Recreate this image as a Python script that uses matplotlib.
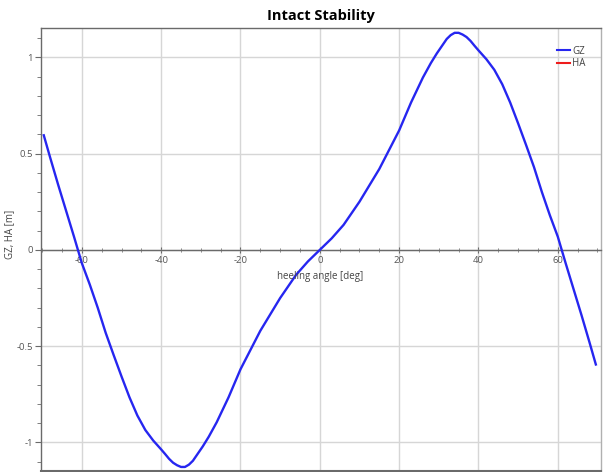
import matplotlib
matplotlib.use("Agg")
import matplotlib.pyplot as plt
from matplotlib.ticker import MultipleLocator

plt.rcParams['font.family'] = ['Open Sans', 'DejaVu Sans']
plt.rcParams['axes.unicode_minus'] = False

# Righting lever curve (GZ) against heel angle
heel_angle = [-69.6, -68, -66, -64, -62, -60, -58, -56, -54, -52, -50, -48, -46,
              -44, -42, -40, -39, -38, -37, -36, -35, -34, -33, -32, -31,
              -29.5, -28, -26, -23, -20, -15, -10, -6, -3, 0, 3, 6, 10, 15,
              20, 23, 26, 28, 29.5, 31, 32, 33, 34, 35, 36, 37, 38, 39, 40,
              42, 44, 46, 48, 50, 52, 54, 56, 58, 60, 62, 64, 66, 68, 69.6]
gz = [0.595, 0.48, 0.34, 0.205, 0.07, -0.069, -0.18, -0.30, -0.43, -0.545,
      -0.657, -0.765, -0.86, -0.935, -0.99, -1.036, -1.06, -1.085, -1.105,
      -1.118, -1.127, -1.127, -1.115, -1.095, -1.065, -1.02, -0.97, -0.895,
      -0.765, -0.62, -0.42, -0.25, -0.13, -0.06, 0.0, 0.06, 0.13, 0.25, 0.42,
      0.62, 0.765, 0.895, 0.97, 1.02, 1.065, 1.095, 1.115, 1.127, 1.127,
      1.118, 1.105, 1.085, 1.06, 1.036, 0.99, 0.935, 0.86, 0.765, 0.657,
      0.545, 0.43, 0.30, 0.18, 0.069, -0.07, -0.205, -0.34, -0.48, -0.595]

# Heeling arm (no values in this condition)
ha_angle = []
ha = []

x_major = [-60, -40, -20, 0, 20, 40, 60]
y_major = [-1, -0.5, 0, 0.5, 1]

fig = plt.figure(figsize=(6.07, 4.72), dpi=100)
ax = fig.add_axes([41 / 607, 1 / 472, 560 / 607, 443 / 472])

ax.plot(heel_angle, gz, color='#2626f0', lw=1.7, label='GZ', zorder=3,
        solid_joinstyle='round')
ax.plot(ha_angle, ha, color='#ee1c1c', lw=1.7, label='HA', zorder=3)

ax.set_xlim(-70.3, 70.9)
ax.set_ylim(-1.148, 1.152)

ax.set_xticks(x_major)
ax.set_xticklabels([str(v) for v in x_major])
ax.set_yticks(y_major)
ax.set_yticklabels(['-1', '-0.5', '0', '0.5', '1'])
ax.xaxis.set_minor_locator(MultipleLocator(5))
ax.yaxis.set_minor_locator(MultipleLocator(0.1))

ax.grid(True, which='major', color='#d6d6d6', lw=1.0, zorder=0)

# Spines: x axis runs through zero
ax.spines['bottom'].set_position(('data', 0))
ax.spines['bottom'].set_color('#6a6a6a')
ax.spines['left'].set_color('#6a6a6a')
ax.spines['top'].set_color('#6a6a6a')
ax.spines['right'].set_color('#b0b0b0')
for s in ax.spines.values():
    s.set_linewidth(1.0)
ax.plot([0, 1], [0, 0], transform=ax.transAxes, color='#6a6a6a', lw=1.5,
        clip_on=False, zorder=4)

ax.tick_params(axis='x', which='major', direction='inout', length=5,
               color='#6a6a6a', labelsize=6.8, labelcolor='#555555', pad=2)
ax.tick_params(axis='x', which='minor', direction='inout', length=3,
               color='#6a6a6a')
ax.tick_params(axis='y', which='major', direction='out', length=4,
               color='#6a6a6a', labelsize=6.8, labelcolor='#555555', pad=2)
ax.tick_params(axis='y', which='minor', direction='out', length=3,
               color='#6a6a6a')

ax.annotate('heeling angle [deg]', xy=(0, 0), xytext=(0, -19),
            textcoords='offset points', ha='center', va='center',
            fontsize=7, color='#444444')
ax.text(-0.056, 0.535, 'GZ, HA [m]', transform=ax.transAxes, rotation=90,
        ha='center', va='center', fontsize=7, color='#444444')

ax.set_title('Intact Stability', fontsize=10.5, fontweight='bold', pad=6)

leg = ax.legend(loc='upper right', bbox_to_anchor=(0.985, 0.975),
                frameon=False, fontsize=7, handlelength=1.3,
                handletextpad=0.3, labelspacing=0.15, borderpad=0.2)
for line in leg.get_lines():
    line.set_linewidth(1.5)
for t in leg.get_texts():
    t.set_color('#444444')

fig.savefig('out.png', dpi=100)
